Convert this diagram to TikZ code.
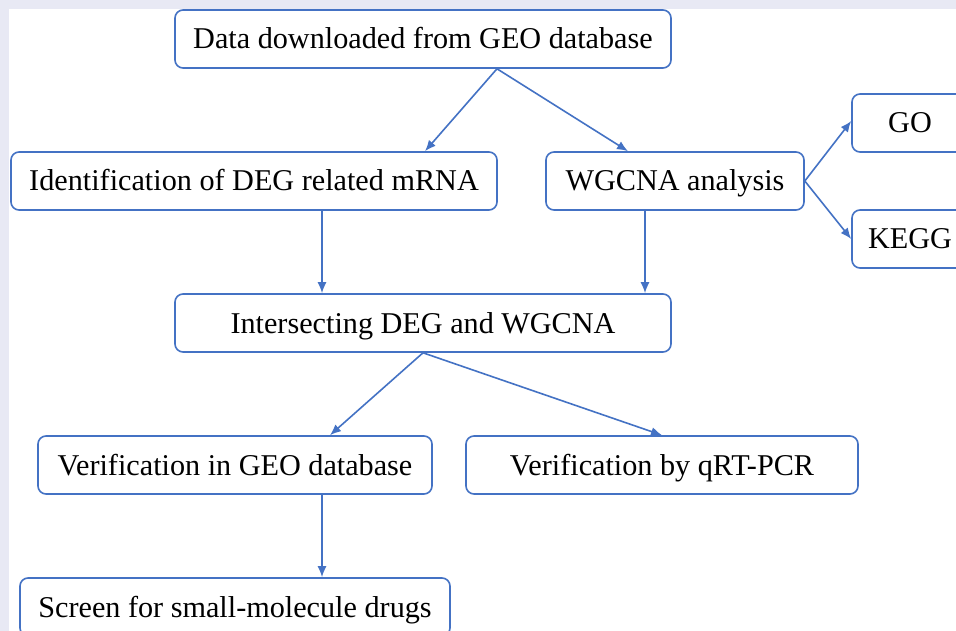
\documentclass[tikz,border=0pt]{standalone}
\usepackage{fontspec}
\setmainfont{Liberation Serif}
\usepackage{tikz}
\usetikzlibrary{positioning,shapes,arrows.meta}
\definecolor{boxblue}{RGB}{68,114,196}
\definecolor{pagebg}{RGB}{232,233,244}
\tikzstyle{block} = [draw=boxblue, rectangle, fill=white, line width=1.6pt, rounded corners=8pt, text centered, inner sep=0pt, minimum height=58pt, text height=24pt, text depth=4pt, font=\fontsize{30.2}{36}\selectfont]
\tikzstyle{line} = [draw=boxblue, line width=1.6pt, -{Latex[length=11pt,width=9pt]}]

\begin{document}
\begin{tikzpicture}[x=1pt, y=-1pt]
    \useasboundingbox (0,0) rectangle (956,631);
    \clip (0,0) rectangle (956,631);
    \fill [pagebg] (0,0) rectangle (956,631);
    \fill [white] (9,9) rectangle (956,631);
    % Place nodes
    \node [block, minimum width=496pt] (data-geo) at (423,39) {Data downloaded from GEO database};
    \node [block, minimum width=486pt] (deg-mrna) at (254,181) {Identification of DEG related mRNA};
    \node [block, minimum width=258pt] (wgcna) at (675,181) {WGCNA analysis};
    \node [block, minimum width=116pt] (go) at (910,123) {GO};
    \node [block, minimum width=116pt] (kegg) at (910,239) {KEGG};
    \node [block, minimum width=496pt] (intersect) at (423,323) {Intersecting DEG and WGCNA};
    \node [block, minimum width=394pt] (verify-geo) at (235,465) {Verification in GEO database};
    \node [block, minimum width=392pt] (verify-pcr) at (662,465) {Verification by qRT-PCR};
    \node [block, minimum width=430pt] (screen-drugs) at (235,607) {Screen for small-molecule drugs};
    % Draw edges
    \path [line] ([xshift=74pt]data-geo.south) -- ([xshift=171pt]deg-mrna.north);
    \path [line] ([xshift=74pt]data-geo.south) -- ([xshift=-47pt]wgcna.north);
    \path [line] (wgcna.east) -- ([yshift=2pt]go.west);
    \path [line] (wgcna.east) -- (kegg.west);
    \path [line] ([xshift=68pt]deg-mrna.south) -- ([xshift=68pt]deg-mrna.south |- intersect.north);
    \path [line] ([xshift=-30pt]wgcna.south) -- ([xshift=-30pt]wgcna.south |- intersect.north);
    \path [line] (intersect.south) -- ([xshift=95pt]verify-geo.north);
    \path [line] (intersect.south) -- (verify-pcr.north);
    \path [line] ([xshift=87pt]verify-geo.south) -- ([xshift=87pt]verify-geo.south |- screen-drugs.north);
\end{tikzpicture}
\end{document}
